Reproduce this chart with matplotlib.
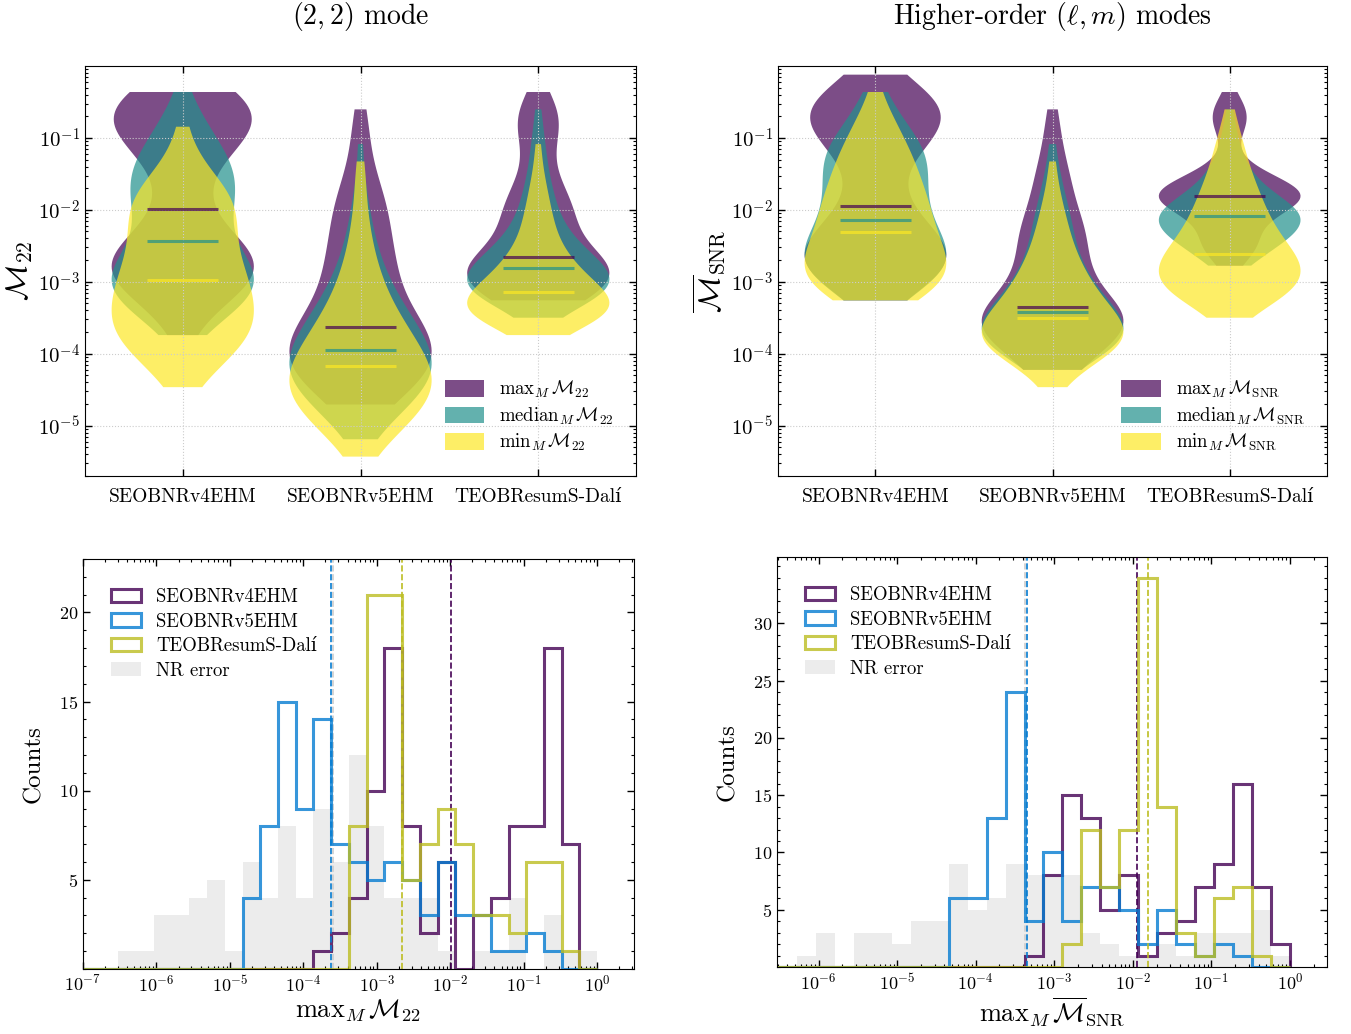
import numpy as np
import matplotlib
matplotlib.use("Agg")
import matplotlib.pyplot as plt
from matplotlib.ticker import MultipleLocator, FixedLocator, FuncFormatter
from matplotlib.patches import Patch

plt.rcParams['font.family'] = ['cmr10', 'DejaVu Serif']
plt.rcParams['mathtext.fontset'] = 'cm'
plt.rcParams['axes.formatter.use_mathtext'] = True
plt.rcParams['axes.unicode_minus'] = False

# log-spaced bins shared by all distributions (29 bins from 1e-7 to 1)
edges_log = np.linspace(-7, 0, 30)
centers_log = 0.5 * (edges_log[:-1] + edges_log[1:])

models = ['SEOBNRv4EHM', 'SEOBNRv5EHM', 'TEOBResumS-Dalí']


def pad(start, vals):
    """counts per bin, first non-empty bin index + values"""
    c = np.zeros(29, dtype=int)
    c[start:start + len(vals)] = vals
    return c


# (2,2) mode -- max over M (also the bottom-left histograms)
max22_v4 = pad(13, [1, 2, 4, 10, 18, 8, 2, 6, 0, 3, 4, 8, 8, 18, 7])
max22_v5 = pad(9, [4, 8, 15, 9, 14, 7, 6, 5, 6, 5, 3, 6, 3, 3, 1, 1, 2, 1])
max22_teob = pad(15, [8, 21, 21, 5, 7, 9, 7, 3, 3, 2, 6, 6, 1])
nr22 = pad(2, [1, 1, 3, 3, 4, 5, 1, 6, 4, 8, 4, 9, 6, 12, 8, 4, 4, 4, 1, 0, 1, 1, 4, 0, 3, 1, 1])

# (2,2) mode -- median and min over M
med22_v4 = pad(13, [2, 6, 11, 13, 11, 7, 6, 7, 8, 8, 8, 5, 4, 2, 1])
med22_v5 = pad(7, [2, 5, 9, 12, 14, 13, 11, 9, 7, 5, 4, 3, 2, 2, 1, 1, 0, 1])
med22_teob = pad(14, [2, 16, 22, 17, 11, 7, 5, 4, 3, 2, 2, 1, 1])
min22_v4 = pad(10, [2, 4, 8, 10, 11, 9, 10, 8, 7, 7, 8, 8, 5, 2, 1, 1])
min22_v5 = pad(6, [2, 5, 9, 12, 14, 13, 11, 9, 7, 5, 4, 3, 2, 2, 1, 1, 1, 1])
min22_teob = pad(13, [6, 22, 24, 16, 11, 7, 5, 4, 3, 2, 1, 1])

# higher-order modes -- max over M (also the bottom-right histograms)
maxsnr_v4 = pad(15, [1, 8, 15, 13, 5, 8, 1, 3, 4, 7, 9, 16, 7, 2])
maxsnr_v5 = pad(11, [6, 6, 13, 24, 4, 10, 4, 7, 7, 5, 2, 5, 2, 1, 2, 1])
maxsnr_teob = pad(17, [2, 12, 7, 12, 34, 14, 3, 1, 6, 7, 1])
nrsnr = pad(3, [1, 3, 0, 3, 3, 2, 4, 4, 9, 5, 6, 9, 8, 8, 8, 3, 2, 1, 1, 2, 1, 3, 3, 3, 5, 1])

# higher-order modes -- median and min over M
medsnr_v4 = pad(15, [4, 10, 13, 12, 10, 8, 8, 8, 9, 8, 5, 3, 2])
medsnr_v5 = pad(11, [4, 14, 20, 17, 12, 9, 7, 5, 5, 4, 3, 2, 1, 1])
medsnr_teob = pad(17, [6, 14, 22, 24, 15, 8, 5, 3, 2, 1])
minsnr_v4 = pad(15, [8, 13, 13, 11, 10, 9, 9, 7, 7, 5, 4, 2, 1])
minsnr_v5 = pad(10, [2, 6, 16, 20, 16, 12, 9, 7, 5, 4, 3, 2, 1, 1])
minsnr_teob = pad(14, [2, 12, 17, 17, 13, 10, 8, 7, 5, 4, 3, 2, 1])

viol_cols = ['#440154', '#21918c', '#fde725']
hist_cols = ['#440154', '#057cd1', '#bcbd22']


def samples(counts):
    return np.repeat(centers_log, counts)


def median_log(counts):
    # median of binned counts, interpolated inside the bin
    cum = np.cumsum(counts)
    half = cum[-1] / 2
    k = np.searchsorted(cum, half)
    prev = cum[k - 1] if k > 0 else 0
    frac = (half - prev) / counts[k]
    return edges_log[k] + frac * (edges_log[k + 1] - edges_log[k])


def style(ax):
    ax.tick_params(which='both', direction='in', top=True, right=True)
    ax.tick_params(which='major', length=5, width=1)
    ax.tick_params(which='minor', length=2.5, width=0.8)


def violin_panel(ax, sets, ylabel, leg_labels, title):
    pos = np.array([1, 2, 3])
    for counts, col in zip(sets, viol_cols):
        data = [samples(c) for c in counts]
        parts = ax.violinplot(data, positions=pos, widths=0.8,
                              showmedians=False, showextrema=False)
        for b in parts['bodies']:
            b.set_facecolor(col)
            b.set_edgecolor('none')
            b.set_alpha(0.7)
    for counts, col in zip(sets, viol_cols):
        meds = [median_log(c) for c in counts]
        ax.hlines(meds, pos - 0.2, pos + 0.2, color=col, alpha=0.7, lw=2.2, zorder=2)
    ax.set_xlim(0.45, 3.55)
    ax.set_ylim(-5.7, 0.0)
    ax.set_xticks(pos)
    ax.set_xticklabels(models, fontsize=14)
    ax.yaxis.set_major_locator(FixedLocator([-5, -4, -3, -2, -1]))
    ax.yaxis.set_major_formatter(FuncFormatter(lambda v, p: r'$10^{%d}$' % round(v)))
    minors = [np.log10(k) + n for n in range(-6, 0) for k in range(2, 10)]
    ax.yaxis.set_minor_locator(FixedLocator(minors))
    ax.tick_params(axis='y', labelsize=15)
    ax.tick_params(axis='x', pad=9)
    ax.grid(True, which='major', ls=':', color='0.8', lw=0.8)
    ax.set_ylabel(ylabel, fontsize=22, labelpad=2)
    ax.set_title(title, fontsize=20, pad=30)
    handles = [Patch(facecolor=c, alpha=0.7, edgecolor='none') for c in viol_cols]
    ax.legend(handles, leg_labels, loc='lower right', frameon=False, fontsize=13.5,
              handlelength=2.1, handleheight=1.0, labelspacing=0.3,
              borderaxespad=0.8)
    style(ax)
    ax.tick_params(axis='x', which='minor', top=False, bottom=False)


def hist_panel(ax, sets, nr, xlabel, xlim, ylim, yticks):
    lin = 10 ** centers_log
    edges = 10 ** edges_log
    nr_h = ax.hist(lin, bins=edges, weights=nr, histtype='stepfilled',
                   color='#ececec', zorder=0)[2][0]
    ax.axvline(10 ** median_log(nr), color='0.8', ls='--', lw=1.2, zorder=1)
    handles = []
    for counts, col, name in zip(sets, hist_cols, models):
        h = ax.hist(lin, bins=edges, weights=counts, histtype='step',
                    color=col, lw=2.2, alpha=0.8)[2][0]
        ax.axvline(10 ** median_log(counts), color=col, ls='--', lw=1.2)
        handles.append(h)
    handles.append(nr_h)
    ax.legend(handles, models + ['NR error'], loc='upper left', frameon=False,
              fontsize=13.5, bbox_to_anchor=(0.02, 0.97), handlelength=1.6,
              labelspacing=0.35)
    ax.set_xscale('log')
    ax.set_xlim(*xlim)
    ax.set_ylim(*ylim)
    ax.set_yticks(yticks)
    ax.yaxis.set_minor_locator(MultipleLocator(1))
    ax.tick_params(labelsize=13)
    ax.set_xlabel(xlabel, fontsize=19, labelpad=2)
    ax.set_ylabel('Counts', fontsize=18, labelpad=10)
    style(ax)


fig = plt.figure(figsize=(13.51, 10.34), dpi=100)
ax_tl = fig.add_axes([0.0629, 0.5397, 0.4079, 0.3965])
ax_tr = fig.add_axes([0.5759, 0.5397, 0.4064, 0.3965])
ax_bl = fig.add_axes([0.0614, 0.0629, 0.4078, 0.3965])
ax_br = fig.add_axes([0.5751, 0.0648, 0.4071, 0.3965])

violin_panel(ax_tl,
             [[max22_v4, max22_v5, max22_teob],
              [med22_v4, med22_v5, med22_teob],
              [min22_v4, min22_v5, min22_teob]],
             r'$\mathcal{M}_{22}$',
             [r'$\mathrm{max}_M\,\mathcal{M}_{22}$',
              r'$\mathrm{median}_M\,\mathcal{M}_{22}$',
              r'$\mathrm{min}_M\,\mathcal{M}_{22}$'],
             r'$(2,2)$ mode')

violin_panel(ax_tr,
             [[maxsnr_v4, maxsnr_v5, maxsnr_teob],
              [medsnr_v4, medsnr_v5, medsnr_teob],
              [minsnr_v4, minsnr_v5, minsnr_teob]],
             r'$\overline{\mathcal{M}}_{\mathrm{SNR}}$',
             [r'$\mathrm{max}_M\,\mathcal{M}_{\mathrm{SNR}}$',
              r'$\mathrm{median}_M\,\mathcal{M}_{\mathrm{SNR}}$',
              r'$\mathrm{min}_M\,\mathcal{M}_{\mathrm{SNR}}$'],
             r'Higher-order $(\ell, m)$ modes')

hist_panel(ax_bl, [max22_v4, max22_v5, max22_teob], nr22,
           r'$\mathrm{max}_M\,\mathcal{M}_{22}$',
           (1e-7, 10 ** 0.5), (0, 23), [5, 10, 15, 20])
hist_panel(ax_br, [maxsnr_v4, maxsnr_v5, maxsnr_teob], nrsnr,
           r'$\mathrm{max}_M\,\overline{\mathcal{M}}_{\mathrm{SNR}}$',
           (10 ** -6.53, 10 ** 0.47), (0, 35.8), [5, 10, 15, 20, 25, 30])

fig.savefig('out.png', dpi=100)
